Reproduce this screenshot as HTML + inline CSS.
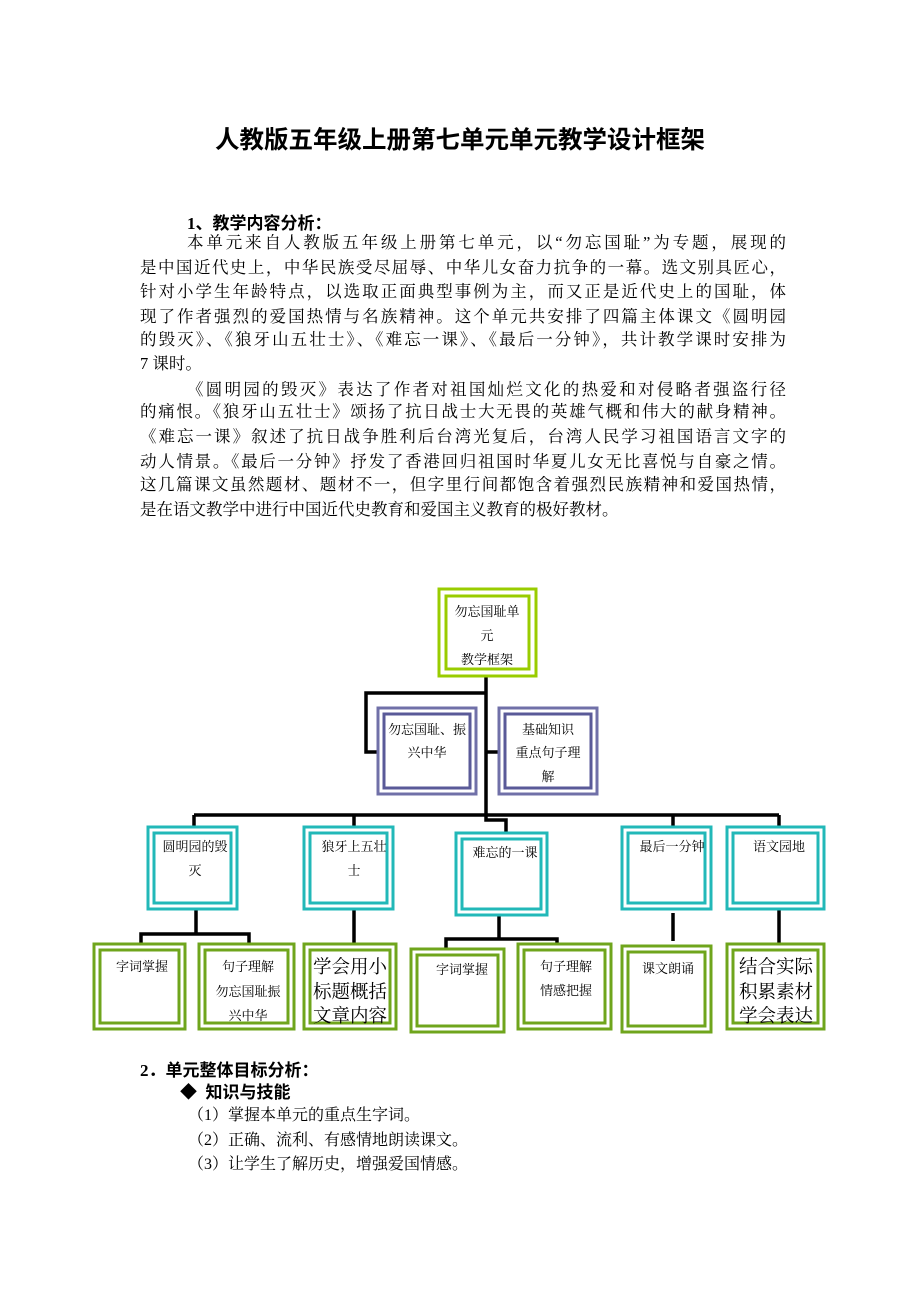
<!DOCTYPE html>
<html><head><meta charset="utf-8">
<style>
body{margin:0;background:#fff;}
#p{position:relative;width:920px;height:1302px;overflow:hidden;background:#fff;font-family:"Liberation Serif","Noto Serif CJK SC",serif;color:#000;}
.t{position:absolute;left:0;width:920px;text-align:center;top:121px;font-size:24.5px;font-weight:bold;font-family:"Liberation Serif","Noto Sans CJK SC",serif;}
.l{position:absolute;left:140px;width:646px;font-size:16.5px;line-height:20px;white-space:nowrap;text-align:justify;text-align-last:justify;}
.n{text-align-last:left;}
.h{position:absolute;font-size:17px;font-weight:bold;white-space:nowrap;font-family:"Liberation Serif","Noto Sans CJK SC",serif;}
.s{position:absolute;font-size:16px;white-space:nowrap;}
svg text{font-family:"Liberation Serif","Noto Serif CJK SC",serif;font-size:13px;text-anchor:middle;}
svg text.b{font-size:18.5px;}
</style></head><body><div id="p">
<div class="t">人教版五年级上册第七单元单元教学设计框架</div>
<div class="h" style="left:187px;top:209px">1、教学内容分析：</div>
<div class="l" style="left:187px;width:599px;top:233px">本单元来自人教版五年级上册第七单元，以“勿忘国耻”为专题，展现的</div>
<div class="l" style="top:258px">是中国近代史上，中华民族受尽屈辱、中华儿女奋力抗争的一幕。选文别具匠心，</div>
<div class="l" style="top:282px">针对小学生年龄特点，以选取正面典型事例为主，而又正是近代史上的国耻，体</div>
<div class="l" style="top:307px">现了作者强烈的爱国热情与名族精神。这个单元共安排了四篇主体课文《圆明园</div>
<div class="l" style="top:330px">的毁灭》、《狼牙山五壮士》、《难忘一课》、《最后一分钟》，共计教学课时安排为</div>
<div class="l n" style="top:354px">7 课时。</div>
<div class="l" style="left:187px;width:599px;top:380px">《圆明园的毁灭》表达了作者对祖国灿烂文化的热爱和对侵略者强盗行径</div>
<div class="l" style="top:402px">的痛恨。《狼牙山五壮士》颂扬了抗日战士大无畏的英雄气概和伟大的献身精神。</div>
<div class="l" style="top:427px">《难忘一课》叙述了抗日战争胜利后台湾光复后，台湾人民学习祖国语言文字的</div>
<div class="l" style="top:452px">动人情景。《最后一分钟》抒发了香港回归祖国时华夏儿女无比喜悦与自豪之情。</div>
<div class="l" style="top:475px">这几篇课文虽然题材、题材不一，但字里行间都饱含着强烈民族精神和爱国热情，</div>
<div class="l n" style="top:500px">是在语文教学中进行中国近代史教育和爱国主义教育的极好教材。</div>

<svg style="position:absolute;left:0;top:0" width="920" height="1302">
<g fill="none" stroke="#000" stroke-width="3.5">
<path d="M486 677V820H506V834"/>
<path d="M486 693H366V752H378"/>
<path d="M486 752H499"/>
<path d="M194 815H779M194 815V828M354 815V828M673 815V828M779 815V828"/>
<path d="M196 910V934M141 945V934H249V945"/>
<path d="M354 910V945"/>
<path d="M499 916V939M446 948V939H557V948"/>
<path d="M673 913V941"/>
<path d="M779 910V945"/>
</g>
<g fill="#fff" stroke-width="3">
<rect x="439" y="589" width="97" height="87" stroke="#99cc00"/>
<rect x="446" y="596" width="83" height="73" stroke="#99cc00"/>
<rect x="378" y="708" width="98" height="86" stroke="#7070a8"/>
<rect x="384" y="714" width="86" height="74" stroke="#5a5a98"/>
<rect x="499" y="708" width="98" height="86" stroke="#7070a8"/>
<rect x="505" y="714" width="86" height="74" stroke="#5a5a98"/>
<g stroke="#22b8b8">
<rect x="148" y="827" width="89" height="82"/><rect x="154" y="833" width="77" height="70"/>
<rect x="304" y="827" width="89" height="82"/><rect x="310" y="833" width="77" height="70"/>
<rect x="456" y="833" width="91" height="82"/><rect x="462" y="839" width="79" height="70"/>
<rect x="622" y="827" width="89" height="82"/><rect x="628" y="833" width="77" height="70"/>
<rect x="727" y="827" width="97" height="82"/><rect x="733" y="833" width="85" height="70"/>
</g>
<g stroke="#6fa51c">
<rect x="94" y="944" width="91" height="85"/><rect x="100" y="950" width="79" height="73"/>
<rect x="199" y="944" width="95" height="85"/><rect x="205" y="950" width="83" height="73"/>
<rect x="304" y="944" width="92" height="85"/><rect x="310" y="950" width="80" height="73"/>
<rect x="411" y="949" width="93" height="83"/><rect x="417" y="955" width="81" height="71"/>
<rect x="518" y="944" width="93" height="85"/><rect x="524" y="950" width="81" height="73"/>
<rect x="622" y="946" width="89" height="86"/><rect x="628" y="952" width="77" height="74"/>
<rect x="727" y="944" width="97" height="85"/><rect x="733" y="950" width="85" height="73"/>
</g>
</g>
<text x="487" y="616">勿忘国耻单</text><text x="487" y="640">元</text><text x="487" y="664">教学框架</text>
<text x="427" y="734">勿忘国耻、振</text><text x="427" y="757">兴中华</text>
<text x="548" y="734">基础知识</text><text x="548" y="757">重点句子理</text><text x="548" y="781">解</text>
<text x="195" y="851">圆明园的毁</text><text x="195" y="875">灭</text>
<text x="354" y="851">狼牙上五壮</text><text x="354" y="875">士</text>
<text x="505" y="857">难忘的一课</text>
<text x="672" y="851">最后一分钟</text>
<text x="779" y="851">语文园地</text>
<text x="142" y="971">字词掌握</text>
<text x="248" y="971">句子理解</text><text x="248" y="996">勿忘国耻振</text><text x="248" y="1020">兴中华</text>
<text x="462" y="974">字词掌握</text>
<text x="566" y="971">句子理解</text><text x="566" y="995">情感把握</text>
<text x="668" y="973">课文朗诵</text>
<text class="b" x="350" y="973">学会用小</text><text class="b" x="350" y="998">标题概括</text><text class="b" x="350" y="1022">文章内容</text>
<text class="b" x="776" y="973">结合实际</text><text class="b" x="776" y="998">积累素材</text><text class="b" x="776" y="1022">学会表达</text>
</svg>

<div class="h" style="left:140px;top:1056px">2．单元整体目标分析：</div>
<div class="h" style="left:180px;top:1078px">◆&nbsp; 知识与技能</div>
<div class="s" style="left:188px;top:1102px">（1）掌握本单元的重点生字词。</div>
<div class="s" style="left:188px;top:1127px">（2）正确、流利、有感情地朗读课文。</div>
<div class="s" style="left:188px;top:1151px">（3）让学生了解历史，增强爱国情感。</div>
</div></body></html>
